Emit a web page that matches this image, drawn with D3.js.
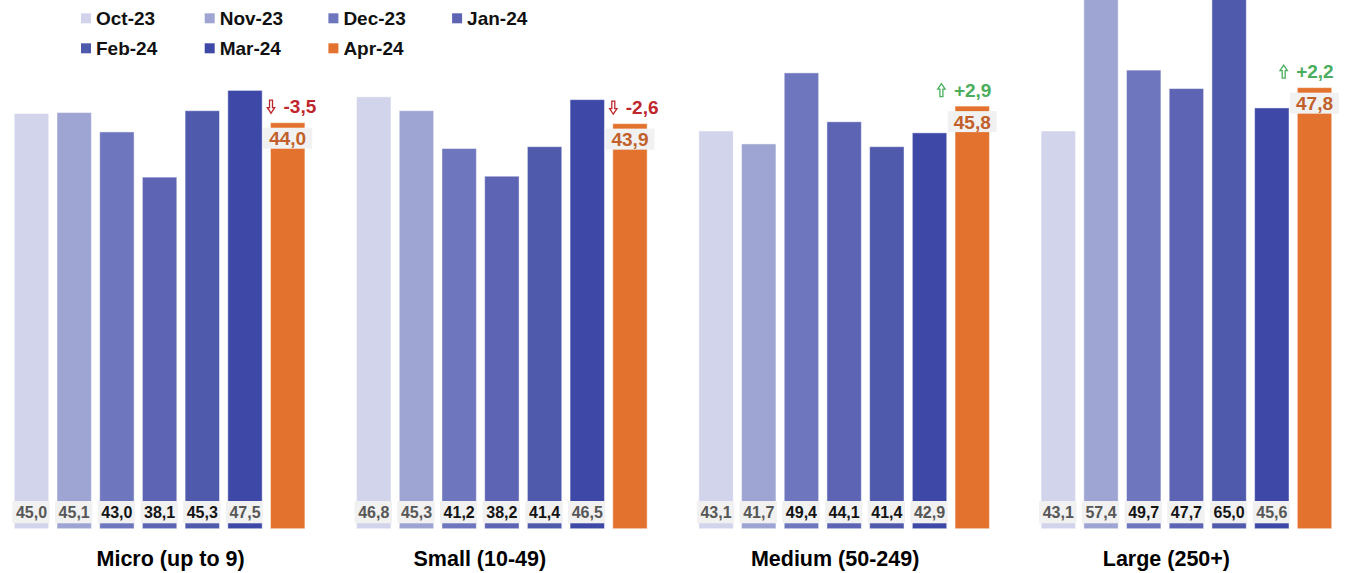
<!DOCTYPE html>
<html>
<head>
<meta charset="utf-8">
<script src="https://cdn.jsdelivr.net/npm/d3@7"></script>
<style>
  html, body { margin: 0; padding: 0; background: #ffffff; }
  svg { display: block; }
  text { font-family: "Liberation Sans", Arial, sans-serif; font-weight: bold; }
</style>
</head>
<body>
<svg id="chart" width="1349" height="573"></svg>
<script>
// Monthly index by enterprise size
const months = ["Oct-23", "Nov-23", "Dec-23", "Jan-24", "Feb-24", "Mar-24", "Apr-24"];
const sizes = ["Micro (up to 9)", "Small (10-49)", "Medium (50-249)", "Large (250+)"];
const micro  = [45.0, 45.1, 43.0, 38.1, 45.3, 47.5, 44.0];
const small  = [46.8, 45.3, 41.2, 38.2, 41.4, 46.5, 43.9];
const medium = [43.1, 41.7, 49.4, 44.1, 41.4, 42.9, 45.8];
const large  = [43.1, 57.4, 49.7, 47.7, 65.0, 45.6, 47.8];

const series = [micro, small, medium, large];

const svg = d3.select("#chart");

const colors = ["#d1d4ea", "#9ea5d3", "#6e76bd", "#5c64b3", "#4f5aac", "#3d48a7", "#e4722f"];
const labelInk = ["#575757", "#575757", "#141414", "#141414", "#141414", "#575757"];
const fmt = v => d3.format(".1f")(v).replace(".", ",").replace("\u2212", "-");
const fmtSigned = v => (v > 0 ? "+" : "") + fmt(v);

// scales
const x0 = d3.scaleBand().domain(sizes).range([14.3, 1331.7]).paddingInner(0.151).paddingOuter(0);
const x1 = d3.scaleBand().domain(months).range([0, x0.bandwidth()]).paddingInner(0.195).paddingOuter(0);
const y = d3.scaleLinear().domain([0, 57.3]).range([528.7, 0]);

// category titles sit under each group (slightly shifted, as laid out)
const titleShift = [11, -22, -9, -20];

// outlined block arrows for the month-on-month change
const arrowDown = "M2,0H5V7.5H7.2L3.5,13L-0.2,7.5H2Z";
const arrowUp = "M2,13H5V5.5H7.2L3.5,0L-0.2,5.5H2Z";

const groups = svg.selectAll("g.group")
  .data(sizes.map((s, i) => ({ size: s, values: series[i], idx: i })))
  .join("g")
  .attr("class", "group")
  .attr("transform", d => `translate(${x0(d.size)},0)`);

// bars
groups.selectAll("rect.bar")
  .data(d => d.values.map((v, j) => ({ month: months[j], value: v, j })))
  .join("rect")
  .attr("class", "bar")
  .attr("x", d => x1(d.month))
  .attr("width", x1.bandwidth())
  .attr("y", d => y(d.value))
  .attr("height", d => y(0) - y(d.value))
  .attr("fill", d => colors[d.j])
  .attr("stroke", "rgba(255,255,255,0.45)")
  .attr("stroke-width", 1);

groups.each(function (d) {
  const g = d3.select(this);

  // bottom value labels for the six earlier months
  d.values.slice(0, 6).forEach((v, j) => {
    const cx = x1(months[j]) + x1.bandwidth() / 2;
    const bw = x1.bandwidth() + 3;
    g.append("rect")
      .attr("x", cx - bw / 2 - 0.5)
      .attr("y", y(0) - 27.7)
      .attr("width", bw)
      .attr("height", 22.3)
      .attr("fill", "#f1f1f1");
    g.append("text")
      .attr("x", cx)
      .attr("y", y(0) - 16.5)
      .attr("text-anchor", "middle")
      .attr("dominant-baseline", "central")
      .attr("font-size", 16)
      .attr("fill", labelInk[j])
      .text(fmt(v));
  });

  // latest month: value box on top of the bar and the change vs previous month
  const last = d.values[6];
  const prev = d.values[5];
  const change = Math.round((last - prev) * 10) / 10;
  const bx = x1(months[6]);
  const cx = bx + x1.bandwidth() / 2;
  const top = y(last);

  const txt = g.append("text")
    .attr("x", cx)
    .attr("y", top + 16)
    .attr("text-anchor", "middle")
    .attr("dominant-baseline", "central")
    .attr("font-size", 19)
    .attr("fill", "#c1602a")
    .text(fmt(last));
  const bb = txt.node().getBBox();
  g.insert("rect", () => txt.node())
    .attr("x", bb.x - 6)
    .attr("y", top + 5)
    .attr("width", bb.width + 12)
    .attr("height", 21)
    .attr("fill", "#f1f1f1");

  const up = change > 0;
  const ink = up ? "#4aae5c" : "#c0272d";
  const ay = top - 16;
  const val = g.append("text")
    .attr("y", ay)
    .attr("dominant-baseline", "central")
    .attr("font-size", 19)
    .attr("fill", ink)
    .text(fmtSigned(change));
  const tw = val.node().getComputedTextLength();
  // negative changes start near the bar's left edge; positive ones end at its right edge
  const ax = up ? bx + x1.bandwidth() + 2 - tw - 16 : bx - 3;
  val.attr("x", ax + 16);
  g.append("path")
    .attr("d", up ? arrowUp : arrowDown)
    .attr("transform", `translate(${ax},${ay - 6.5})`)
    .attr("fill", "#fff")
    .attr("stroke", ink)
    .attr("stroke-width", 1.3)
    .attr("stroke-linejoin", "miter");

  // group title
  g.append("text")
    .attr("x", x0.bandwidth() / 2 + titleShift[d.idx])
    .attr("y", 559)
    .attr("text-anchor", "middle")
    .attr("dominant-baseline", "central")
    .attr("font-size", 21.5)
    .attr("fill", "#000")
    .text(d.size);
});

// legend: four entries on the first row, three on the second
const legend = svg.append("g").attr("class", "legend");
months.forEach((m, i) => {
  const col = i < 4 ? i : i - 4;
  const row = i < 4 ? 0 : 1;
  const lx = 81 + col * 123.7;
  const ly = 18.3 + row * 30;
  legend.append("rect")
    .attr("x", lx).attr("y", ly - 5)
    .attr("width", 10).attr("height", 10)
    .attr("fill", colors[i]);
  legend.append("text")
    .attr("x", lx + 15).attr("y", ly)
    .attr("dominant-baseline", "central")
    .attr("font-size", 19)
    .attr("fill", "#111")
    .text(m);
});
</script>
</body>
</html>
